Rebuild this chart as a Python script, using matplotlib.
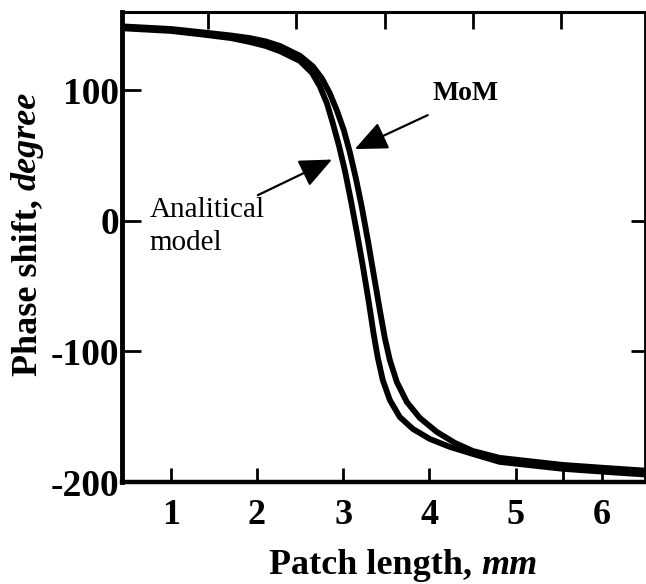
import matplotlib
matplotlib.use('Agg')
import matplotlib.pyplot as plt
import numpy as np

# curve values (patch length in mm, phase shift in degree)
analytical_x = [0.44, 1.0, 1.36, 1.7, 1.92, 2.1, 2.266, 2.498, 2.637, 2.729, 2.811, 2.880,
                2.950, 3.019, 3.089, 3.158, 3.228, 3.297, 3.355, 3.402, 3.459, 3.541, 3.656,
                3.807, 4.004, 4.236, 4.502, 4.815, 5.545, 6.032, 6.553]
analytical_y = [147.5, 145.5, 142.8, 140.0, 137.0, 134.0, 130.0, 122.5, 113.5, 103.1, 90.1, 74.8,
                57.9, 38.8, 15.8, -8.6, -34.6, -62.2, -87.4, -105.0, -121.9, -137.2, -150.2,
                -159.3, -167.0, -173.1, -178.5, -184.6, -189.9, -192.2, -194.5]

mom_x = [0.44, 1.0, 1.36, 1.7, 1.92, 2.1, 2.266, 2.498, 2.648, 2.753, 2.845, 2.926,
         3.008, 3.077, 3.147, 3.216, 3.286, 3.355, 3.425, 3.483, 3.541, 3.622, 3.738,
         3.888, 4.085, 4.294, 4.502, 4.815, 5.545, 6.032, 6.553]
mom_y = [149.0, 147.0, 144.5, 142.0, 140.0, 137.5, 134.0, 126.5, 118.4, 109.2, 97.7, 84.7,
         69.4, 52.6, 32.7, 10.5, -14.8, -41.5, -68.3, -89.7, -106.6, -123.4, -138.7,
         -150.9, -161.6, -170.0, -176.2, -181.5, -186.9, -189.2, -191.5]

x_ticks = [1, 2, 3, 4, 5, 6]
x_minor = [5.55]
top_ticks = [1.43, 2.45, 3.48, 4.5, 5.53]
y_ticks = [-200, -100, 0, 100]
right_ticks = [-100, 0]

serif = ['Liberation Serif', 'DejaVu Serif']
plt.rcParams['font.family'] = serif
plt.rcParams['axes.unicode_minus'] = False

fig = plt.figure(figsize=(6.46, 5.84), dpi=100)
ax = fig.add_axes([122 / 646, 1 - 482 / 584, 523 / 646, 470 / 584])

ax.plot(analytical_x, analytical_y, color='black', linewidth=4.2, solid_capstyle='butt', solid_joinstyle='round')
ax.plot(mom_x, mom_y, color='black', linewidth=4.2, solid_capstyle='butt', solid_joinstyle='round')

ax.set_xlim(0.435, 6.5)
ax.set_ylim(-200, 160)

ax.set_xticks(x_ticks)
ax.set_xticks(x_minor, minor=True)
ax.set_yticks(y_ticks)
ax.tick_params(axis='x', which='major', direction='in', length=10, width=2, pad=12,
               labelsize=26)
ax.tick_params(axis='x', which='minor', direction='in', length=10, width=2)
ax.tick_params(axis='y', direction='in', length=14, width=2, pad=2, labelsize=27)
for lab in ax.get_xticklabels() + ax.get_yticklabels():
    lab.set_fontweight('bold')

# top and right ticks
top = ax.secondary_xaxis('top')
top.set_xticks(top_ticks)
top.tick_params(direction='in', length=12, width=2, labeltop=False)
top.spines['top'].set_visible(False)
right = ax.secondary_yaxis('right')
right.set_yticks(right_ticks)
right.tick_params(direction='in', length=10, width=2, labelright=False)
right.spines['right'].set_visible(False)

ax.spines['left'].set_linewidth(3.5)
ax.spines['bottom'].set_linewidth(3.2)
ax.spines['top'].set_linewidth(2.2)
ax.spines['right'].set_linewidth(2.0)

# axis labels, upright part + italic unit
fig.text(481 / 646, 1 - 574 / 584, 'Patch length, ', fontsize=26, fontweight='bold',
         ha='right', va='baseline')
fig.text(481 / 646, 1 - 574 / 584, 'mm', fontsize=26, fontweight='bold', fontstyle='italic',
         ha='left', va='baseline')
fig.text(36 / 646, 1 - 190 / 584, 'Phase shift, ', fontsize=26, fontweight='bold',
         rotation=90, rotation_mode='anchor', ha='right', va='baseline')
fig.text(36 / 646, 1 - 190 / 584, 'degree', fontsize=26, fontweight='bold', fontstyle='italic',
         rotation=90, rotation_mode='anchor', ha='left', va='baseline')

ax.text(4.42, 97.5, 'MoM', fontsize=20, fontweight='bold', ha='center', va='center')
ax.text(0.755, 2.8, 'Analitical', fontsize=21, ha='left', va='baseline')
ax.text(0.755, -22.4, 'model', fontsize=21, ha='left', va='baseline')

arrow = dict(arrowstyle='-|>,head_length=0.5,head_width=0.22', color='black', lw=1.6,
             mutation_scale=40, shrinkA=0, shrinkB=0)
ax.annotate('', xy=(3.135, 55.0), xytext=(3.98, 81.0), arrowprops=arrow)
ax.annotate('', xy=(2.87, 47.0), xytext=(2.01, 19.7), arrowprops=arrow)

fig.savefig('out.png', dpi=100)
